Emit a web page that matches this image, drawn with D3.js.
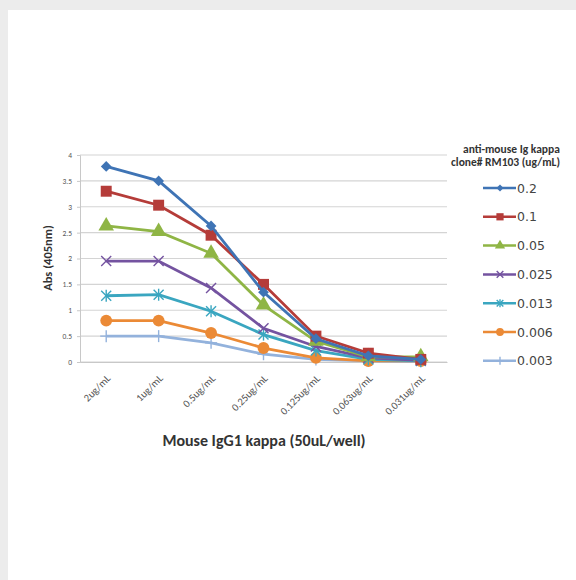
<!DOCTYPE html>
<html>
<head>
<meta charset="utf-8">
<script src="https://cdn.jsdelivr.net/npm/d3@7"></script>
<style>
  body { margin: 0; background: #ececec; }
  svg { display: block; }
</style>
</head>
<body>
<svg width="576" height="580"></svg>
<script>
var categories = ["2ug/mL", "1ug/mL", "0.5ug/mL", "0.25ug/mL", "0.125ug/mL", "0.063ug/mL", "0.031ug/mL"];
var seriesNames = ["0.2", "0.1", "0.05", "0.025", "0.013", "0.006", "0.003"];
var s02 = [3.78, 3.50, 2.63, 1.35, 0.45, 0.12, 0.05];
var s01 = [3.30, 3.03, 2.45, 1.50, 0.50, 0.17, 0.05];
var s005 = [2.63, 2.52, 2.10, 1.10, 0.40, 0.10, 0.10];
var s0025 = [1.95, 1.95, 1.43, 0.65, 0.30, 0.08, 0.03];
var s0013 = [1.28, 1.30, 0.98, 0.53, 0.22, 0.05, 0.02];
var s0006 = [0.80, 0.80, 0.56, 0.27, 0.08, 0.02, 0.02];
var s0003 = [0.50, 0.50, 0.37, 0.15, 0.05, 0.02, 0.01];
var yTicks = [0, 0.5, 1, 1.5, 2, 2.5, 3, 3.5, 4];

var allValues = [s02, s01, s005, s0025, s0013, s0006, s0003];
var colors = ["#3f74b5", "#b53c39", "#8fb545", "#7453a0", "#3aa6c0", "#eb8a36", "#93b2dc"];
var symbols = ["diamond", "square", "triangle", "x", "star", "circle", "plus"];
var font = "Carlito, Calibri, 'Liberation Sans', sans-serif";

var svg = d3.select("svg");
svg.append("rect").attr("x", 8).attr("y", 10).attr("width", 568).attr("height", 570).attr("fill", "#fff");

var x = d3.scaleBand().domain(categories).range([80, 447]);
var y = d3.scaleLinear().domain([0, 4]).range([362, 155]);

// gridlines
svg.append("g").selectAll("line").data(yTicks).enter().append("line")
    .attr("x1", 80).attr("x2", 447)
    .attr("y1", function(d) { return y(d); }).attr("y2", function(d) { return y(d); })
    .attr("stroke", "#d4d4d4").attr("stroke-width", 1.2);

// y axis
var yAxis = svg.append("g").attr("transform", "translate(80,0)")
    .call(d3.axisLeft(y).tickValues(yTicks).tickSize(3).tickPadding(5).tickFormat(d3.format("")));
yAxis.select(".domain").attr("stroke", "#c8c8c8");
yAxis.selectAll(".tick line").attr("stroke", "#c8c8c8");
yAxis.selectAll("text").attr("font-family", font).attr("font-size", 7.5).attr("fill", "#555");

// x axis
var xAxis = svg.append("g").attr("transform", "translate(0,362)")
    .call(d3.axisBottom(x).tickSize(0).tickPadding(0));
xAxis.select(".domain").attr("stroke", "#c8c8c8");
xAxis.selectAll("text")
    .attr("font-family", font).attr("font-size", 10.5).attr("fill", "#555")
    .attr("text-anchor", "end")
    .attr("x", 0).attr("y", 0).attr("dy", "0")
    .attr("transform", "translate(5,17) rotate(-45)");

// lines and markers
var line = d3.line()
    .x(function(d, i) { return x(categories[i]) + x.bandwidth() / 2; })
    .y(function(d) { return y(d); });

function marker(sel, k, size) {
    var s = symbols[k];
    var r = size;
    if (s === "x" || s === "star" || s === "plus") {
        var g = sel.append("g").attr("stroke", colors[k]).attr("stroke-width", 1.4).attr("fill", "none");
        if (s !== "plus") {
            g.append("line").attr("x1", -r).attr("y1", -r).attr("x2", r).attr("y2", r);
            g.append("line").attr("x1", -r).attr("y1", r).attr("x2", r).attr("y2", -r);
        }
        if (s !== "x") {
            g.append("line").attr("x1", 0).attr("y1", -r * 1.2).attr("x2", 0).attr("y2", r * 1.2);
        }
        if (s === "plus") {
            g.append("line").attr("x1", -r * 1.2).attr("y1", 0).attr("x2", r * 1.2).attr("y2", 0);
        }
        return;
    }
    if (s === "diamond") {
        sel.append("path").attr("d", d3.symbol().type(d3.symbolSquare).size(2.3 * r * r))
            .attr("transform", "rotate(45)").attr("fill", colors[k]);
        return;
    }
    var type = { square: d3.symbolSquare, triangle: d3.symbolTriangle, circle: d3.symbolCircle }[s];
    var area = { square: 4.8, triangle: 4.2, circle: 4.4 }[s];
    sel.append("path").attr("d", d3.symbol().type(type).size(area * r * r))
        .attr("fill", colors[k]);
}

// draw from lowest series up so the top series sits above
for (var k = allValues.length - 1; k >= 0; k--) {
    svg.append("path").datum(allValues[k]).attr("d", line)
        .attr("fill", "none").attr("stroke", colors[k]).attr("stroke-width", 2.8);
    var pts = svg.append("g").selectAll("g").data(allValues[k]).enter().append("g")
        .attr("transform", function(d, i) {
            return "translate(" + (x(categories[i]) + x.bandwidth() / 2) + "," + y(d) + ")";
        });
    pts.each(function() { marker(d3.select(this), k, 5); });
}

// axis titles
svg.append("text").attr("transform", "translate(52,258) rotate(-90)")
    .attr("text-anchor", "middle").attr("font-family", font)
    .attr("font-weight", "bold").attr("font-size", 12.5).attr("fill", "#333")
    .text("Abs (405nm)");
svg.append("text").attr("x", 264).attr("y", 446)
    .attr("text-anchor", "middle").attr("font-family", font)
    .attr("font-weight", "bold").attr("font-size", 16).attr("fill", "#333")
    .text("Mouse IgG1 kappa (50uL/well)");

// legend
var lg = svg.append("g").attr("font-family", font);
lg.append("text").attr("x", 463).attr("y", 153)
    .attr("font-size", 11.5).attr("font-weight", "bold").attr("fill", "#333").text("anti-mouse Ig kappa");
lg.append("text").attr("x", 451).attr("y", 166)
    .attr("font-size", 11.5).attr("font-weight", "bold").attr("fill", "#333").text("clone# RM103 (ug/mL)");
seriesNames.forEach(function(name, k) {
    var yy = 188 + k * 28.8;
    lg.append("line").attr("x1", 483).attr("x2", 516).attr("y1", yy).attr("y2", yy)
        .attr("stroke", colors[k]).attr("stroke-width", 2.5);
    marker(lg.append("g").attr("transform", "translate(500," + yy + ")"), k, 3.3);
    lg.append("text").attr("x", 517).attr("y", yy + 4.5)
        .attr("font-family", "'DejaVu Sans', sans-serif")
        .attr("font-size", 12.5).attr("fill", "#444").text(name);
});
</script>
</body>
</html>
